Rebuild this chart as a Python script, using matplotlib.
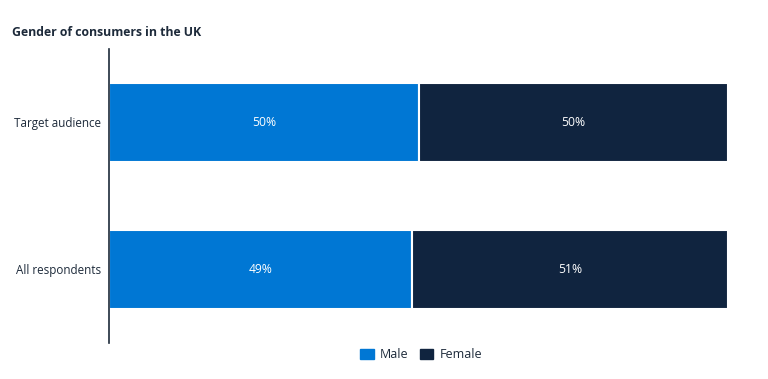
import matplotlib.pyplot as plt
from matplotlib.patches import Patch

plt.rcParams["font.family"] = ["Open Sans", "DejaVu Sans"]

# Data
groups = ["All respondents", "Target audience"]
male = [49, 50]
female = [51, 50]

male_color = "#0077d4"
female_color = "#10243f"
text_color = "#1d2a3a"

fig = plt.figure(figsize=(7.68, 3.79), dpi=100)
ax = fig.add_axes([0.1419, 0.095, 0.948 - 0.1419, 0.871 - 0.095])

y = range(len(groups))
ax.barh(y, male, height=0.54, color=male_color, edgecolor="white", linewidth=1.5)
ax.barh(y, female, left=male, height=0.54, color=female_color, edgecolor="white", linewidth=1.5)

for i in y:
    ax.text(male[i] / 2, i, f"{male[i]}%", ha="center", va="center", color="white", fontsize=8.7)
    ax.text(male[i] + female[i] / 2, i, f"{female[i]}%", ha="center", va="center", color="white", fontsize=8.7)

ax.set_xlim(0, 100)
ax.set_ylim(-0.5, 1.5)
ax.set_yticks(list(y))
ax.set_yticklabels(groups, fontsize=8.4, color=text_color)
ax.tick_params(axis="y", length=0, pad=6)
ax.set_xticks([])
for s in ["top", "right", "bottom"]:
    ax.spines[s].set_visible(False)
ax.spines["left"].set_color("#1d2a3a")
ax.spines["left"].set_linewidth(1.2)

fig.text(12 / 768, 1 - 33 / 379, "Gender of consumers in the UK", fontsize=8.8,
         fontweight="bold", color=text_color, va="center", ha="left")

handles = [Patch(color=male_color, label="Male"), Patch(color=female_color, label="Female")]
fig.legend(handles=handles, loc="center", bbox_to_anchor=(421 / 768, 1 - 355 / 379), ncol=2,
           frameon=False, fontsize=9, handlelength=1.1, handleheight=0.9,
           columnspacing=0.9, handletextpad=0.5, labelcolor=text_color)

fig.savefig("out.png", dpi=100, facecolor="white")
